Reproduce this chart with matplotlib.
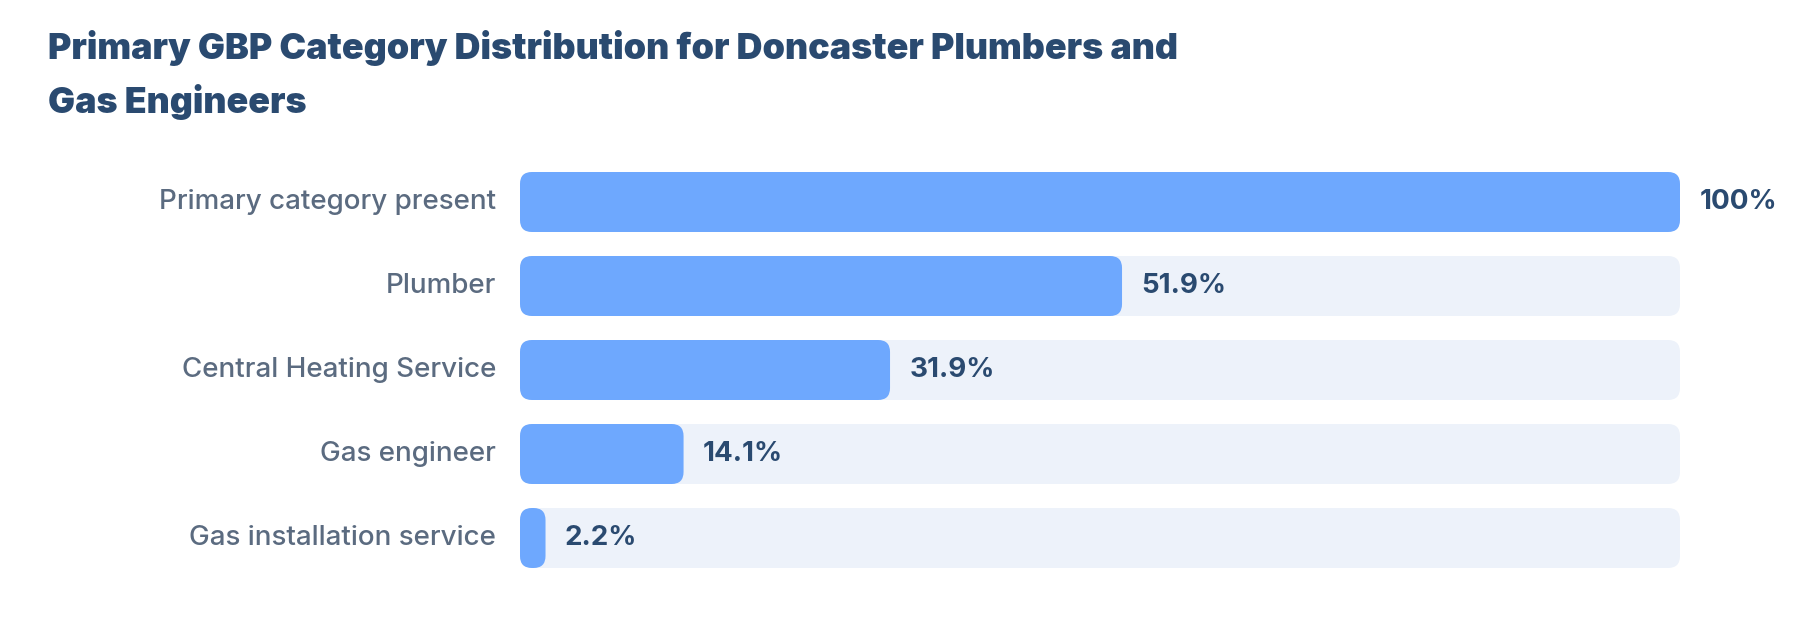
import matplotlib
matplotlib.use("Agg")
from matplotlib import pyplot as plt
from matplotlib.patches import FancyBboxPatch

categories = ['Primary category present', 'Plumber', 'Central Heating Service',
              'Gas engineer', 'Gas installation service']
values = [100, 51.9, 31.9, 14.1, 2.2]
value_labels = ['100%', '51.9%', '31.9%', '14.1%', '2.2%']

title = 'Primary GBP Category Distribution for Doncaster Plumbers and\nGas Engineers'

BAR_COLOR = '#6ea8fe'
TRACK_COLOR = '#edf2fa'
TITLE_COLOR = '#2a4a70'
LABEL_COLOR = '#5b6b80'
VALUE_COLOR = '#2a4a70'

plt.rcParams['font.family'] = ['Inter', 'DejaVu Sans']

W, H = 1800, 624
fig = plt.figure(figsize=(W / 100, H / 100), dpi=100)
fig.patch.set_facecolor('white')

# axes placed in pixel terms: bars from x=520 to 1680, rows 84px apart
ax = fig.add_axes([520 / W, 1 - 580 / H, 1160 / W, 420 / H])
ax.set_xlim(0, 100)
ax.set_ylim(len(categories) - 0.5, -0.5)
ax.axis('off')

bar_h = 60 / 84
px_x = 1160 / 100.0
px_y = 84.0
radius = 12 / px_x
aspect = (12 / px_y) / radius

for i, (cat, v, lab) in enumerate(zip(categories, values, value_labels)):
    track = FancyBboxPatch((0, i - bar_h / 2), 100, bar_h,
                           boxstyle='round,pad=0,rounding_size=%f' % radius,
                           mutation_aspect=aspect, fc=TRACK_COLOR, ec='none')
    ax.add_patch(track)
    r = min(radius, v / 2)
    bar = FancyBboxPatch((0, i - bar_h / 2), v, bar_h,
                         boxstyle='round,pad=0,rounding_size=%f' % r,
                         mutation_aspect=radius * aspect / r, fc=BAR_COLOR, ec='none')
    ax.add_patch(bar)
    ax.annotate(lab, xy=(v, i), xytext=(14, 0), textcoords='offset points',
                ha='left', va='center', fontsize=20, fontweight='bold',
                color=VALUE_COLOR, annotation_clip=False)
    ax.text(-24 / px_x, i, cat, ha='right', va='center', fontsize=20,
            fontweight='medium', color=LABEL_COLOR)

fig.text(48 / W, 1 - 30 / H, title, ha='left', va='top', fontsize=25.8,
         fontweight='black', color=TITLE_COLOR, linespacing=1.63)

fig.savefig('out.png', dpi=100, facecolor='white')
